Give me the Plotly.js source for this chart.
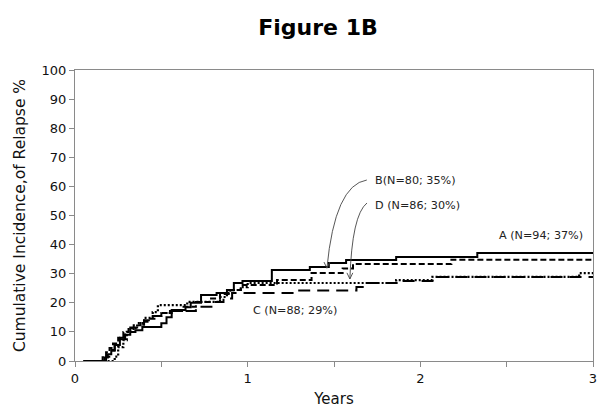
<!DOCTYPE html>
<html>
<head>
<meta charset="utf-8">
<script src="https://cdn.plot.ly/plotly-3.0.1.min.js"></script>
<style>html,body{margin:0;padding:0;background:#fff;}#chart{width:604px;height:412px;}</style>
</head>
<body>
<div id="chart"></div>
<script>
// Years and cumulative incidence (%) for each group (step functions)
const yearsA = [0.05,0.17,0.19,0.21,0.23,0.26,0.29,0.32,0.35,0.39,0.50,0.53,0.56,0.64,0.67,0.73,0.82,0.88,0.92,0.97,1.14,1.36,1.47,1.57,1.86,2.33,3.0];
const relapseA = [0,1.2,2.3,3.8,5.5,7.5,9,10,10.6,11.7,13,15,17.5,18.5,20,22.7,23.4,24.4,26.8,27.5,31.3,32.3,33.7,34.7,35.7,37.1,37.1];

const yearsB = [0.05,0.16,0.18,0.20,0.22,0.25,0.28,0.31,0.34,0.38,0.42,0.46,0.50,0.55,0.62,0.70,0.78,0.84,0.90,0.96,1.17,1.37,1.55,1.61,2.18,3.0];
const relapseB = [0,1.3,3,4.5,6,8,10,11,12.3,13.5,14.5,15.5,16.5,17.2,18.6,20.3,21.5,23,24.4,26.1,27.8,30.2,31.8,33.3,34.8,34.8];

const yearsC = [0.05,0.18,0.21,0.23,0.26,0.29,0.32,0.36,0.40,0.45,0.50,0.56,0.70,0.79,0.86,0.91,1.26,1.63,1.68,1.88,2.07,3.0];
const relapseC = [0,1.5,3.5,5.5,8,10,11.5,12.5,14,15.5,16.5,17.2,18.6,20.3,21.5,23.4,24.2,25.4,26.8,27.5,28.9,28.9];

const yearsD = [0.05,0.23,0.25,0.28,0.30,0.33,0.36,0.40,0.45,0.48,0.65,0.84,0.88,0.92,0.96,1.00,1.86,2.07,2.92,3.0];
const relapseD = [0,1.5,4.8,7.2,10,11.3,13,14.8,16.8,19.2,20.3,22,23.4,24.4,25.4,26.8,27.8,28.9,30.2,30.2];

const groupLabels = ["A (N=94; 37%)","B(N=80; 35%)","C (N=88; 29%)","D (N=86; 30%)"];
const xTickVals = [0,0.5,1,1.5,2,2.5,3];
const xTickText = ["0","","1","","2","","3"];
const yTickVals = [0,10,20,30,40,50,60,70,80,90,100];

const font = "DejaVu Sans, Verdana, sans-serif";

function stepTrace(x, y, dash, width) {
  return {x: x, y: y, type: "scatter", mode: "lines",
    line: {shape: "hv", color: "#000", width: width, dash: dash},
    hoverinfo: "skip", showlegend: false};
}

const traces = [
  stepTrace(yearsC, relapseC, "12px,7px", 2),
  stepTrace(yearsD, relapseD, "2px,2px", 2.2),
  stepTrace(yearsB, relapseB, "6px,3px", 2),
  stepTrace(yearsA, relapseA, "solid", 2)
];

// curved pointer lines (quadratic bezier in data coords)
const arrowColor = "#444";
function qpath(p0, c, p1) {
  return `M ${p0[0]},${p0[1]} Q ${c[0]},${c[1]} ${p1[0]},${p1[1]}`;
}
function head(tip) {
  const dx = 0.017, dy = 2.1;
  return `M ${tip[0]-dx},${tip[1]+dy} L ${tip[0]},${tip[1]} L ${tip[0]+dx},${tip[1]+dy}`;
}
const tipB = [1.459, 31.9], tipD = [1.592, 28.2];
const shapes = [
  {type: "path", xref: "x", yref: "y", path: qpath([1.69, 62.2], [1.505, 60.5], tipB), line: {color: arrowColor, width: 0.9}},
  {type: "path", xref: "x", yref: "y", path: head(tipB), line: {color: arrowColor, width: 0.9}},
  {type: "path", xref: "x", yref: "y", path: qpath([1.691, 54.3], [1.604, 50.2], tipD), line: {color: arrowColor, width: 0.9}},
  {type: "path", xref: "x", yref: "y", path: head(tipD), line: {color: arrowColor, width: 0.9}}
];

const lblFont = {family: font, size: 11.2, color: "#222"};
const annotations = [
  {x: 2.443, y: 43, text: groupLabels[0], showarrow: false, xanchor: "left", yanchor: "middle", font: lblFont},
  {x: 1.726, y: 62.2, text: groupLabels[1], showarrow: false, xanchor: "left", yanchor: "middle", font: lblFont},
  {x: 1.019, y: 17.5, text: groupLabels[2], showarrow: false, xanchor: "left", yanchor: "middle", font: lblFont},
  {x: 1.726, y: 53.6, text: groupLabels[3], showarrow: false, xanchor: "left", yanchor: "middle", font: lblFont}
];

const axisCommon = {
  showgrid: false, zeroline: false, showline: true, linecolor: "#8a8a8a", linewidth: 1,
  mirror: true, ticks: "outside", ticklen: 5, tickcolor: "#8a8a8a", tickwidth: 1,
  tickfont: {family: font, size: 13, color: "#111"}
};

const layout = {
  width: 604, height: 412,
  margin: {l: 75, r: 11, t: 70, b: 51},
  paper_bgcolor: "#fff", plot_bgcolor: "#fff",
  title: {text: "<b>Figure 1B</b>", font: {family: font, size: 22, color: "#000"},
    x: 318/604, xanchor: "center", y: 1 - 27/412, yanchor: "middle", yref: "container"},
  xaxis: Object.assign({}, axisCommon, {range: [0, 3], tickmode: "array", tickvals: xTickVals, ticktext: xTickText,
    title: {text: "Years", font: {family: font, size: 15, color: "#111"}, standoff: 8}}),
  yaxis: Object.assign({}, axisCommon, {range: [0, 100], tickmode: "array", tickvals: yTickVals,
    automargin: true,
    title: {text: "Cumulative Incidence,of Relapse %", font: {family: font, size: 15.5, color: "#111"}, standoff: 12}}),
  shapes: shapes,
  annotations: annotations,
  showlegend: false
};

Plotly.newPlot("chart", traces, layout, {staticPlot: true, displayModeBar: false});
</script>
</body>
</html>
